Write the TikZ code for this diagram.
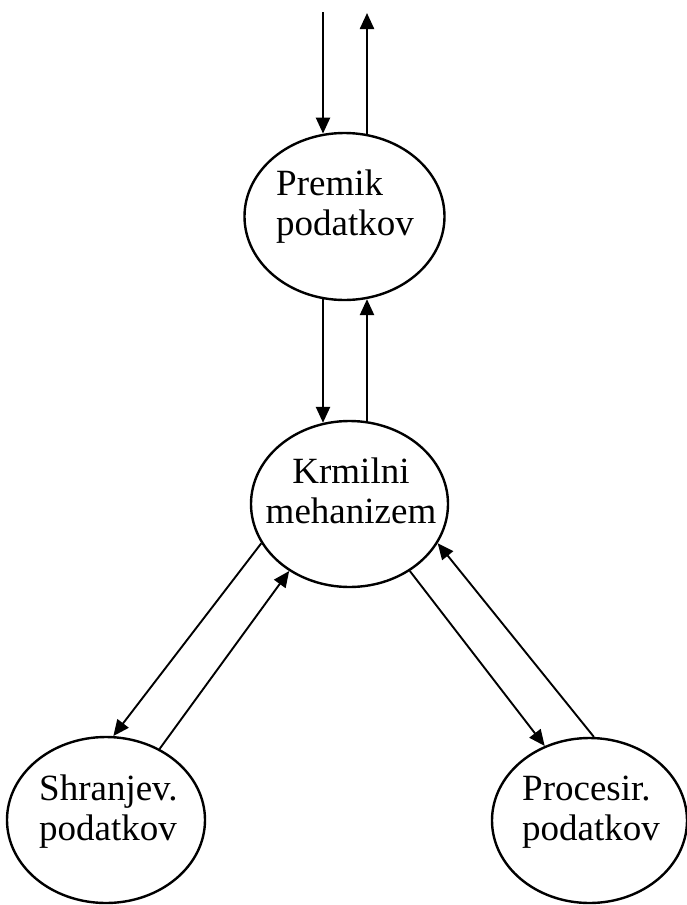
\documentclass[tikz,border=0pt]{standalone}
\usepackage{fontspec}
\setmainfont{Liberation Serif}
\usetikzlibrary{shapes.geometric,arrows.meta}

\tikzset{
  bubble/.style={draw, ellipse, inner sep=0pt, line width=2.4pt},
  label text/.style={inner sep=0pt, text width=170pt,
    font=\fontsize{37}{40}\selectfont},
  flow/.style={line width=2.4pt, -{Triangle[length=16pt,width=14pt]}},
  diagflow/.style={line width=1.9pt, -{Triangle[length=16pt,width=14pt]}},
}

\begin{document}
\begin{tikzpicture}[x=1pt, y=-1pt]
  \useasboundingbox (0,0) rectangle (687,905);

  % processes
  \node[bubble, minimum width=200pt, minimum height=167pt] (premik) at (344.5,216.5) {};
  \node[bubble, minimum width=197pt, minimum height=166pt] (krm)    at (349.5,504) {};
  \node[bubble, minimum width=198pt, minimum height=166pt] (shr)    at (106,820) {};
  \node[bubble, minimum width=195pt, minimum height=165pt] (proc)   at (589.5,820.5) {};

  % process names
  \node[label text, align=left, anchor=base west] (premik-t) at (276,195) {Premik\\podatkov};
  \node[label text, align=center, anchor=base, text width=200pt] (krm-t) at (351,483) {Krmilni\\mehanizem};
  \node[label text, align=left, anchor=base west] (shr-t) at (39,800) {Shranjev.\\podatkov};
  \node[label text, align=left, anchor=base west] (proc-t) at (522,800) {Procesir.\\podatkov};

  % external input / output
  \coordinate (in)  at (323,12);
  \coordinate (out) at (367,13);

  \draw[flow] (in) -- (in |- premik.104.8);
  \draw[flow] (out |- premik.74.5) -- (out);
  \draw[flow] (in |- premik.254.5) -- (in |- krm.108.7);
  \draw[flow] (out |- krm.77.9) -- (out |- premik.285.5);

  % control <-> storage / processing
  \draw[diagflow] (krm.204.6) -- (shr.85.9);
  \draw[diagflow] (shr.53.1) -- (krm.228.8);
  \draw[diagflow] (krm.312.6) -- (proc.121.7);
  \draw[diagflow] (proc.87.2) -- (krm.336.8);
\end{tikzpicture}
\end{document}
